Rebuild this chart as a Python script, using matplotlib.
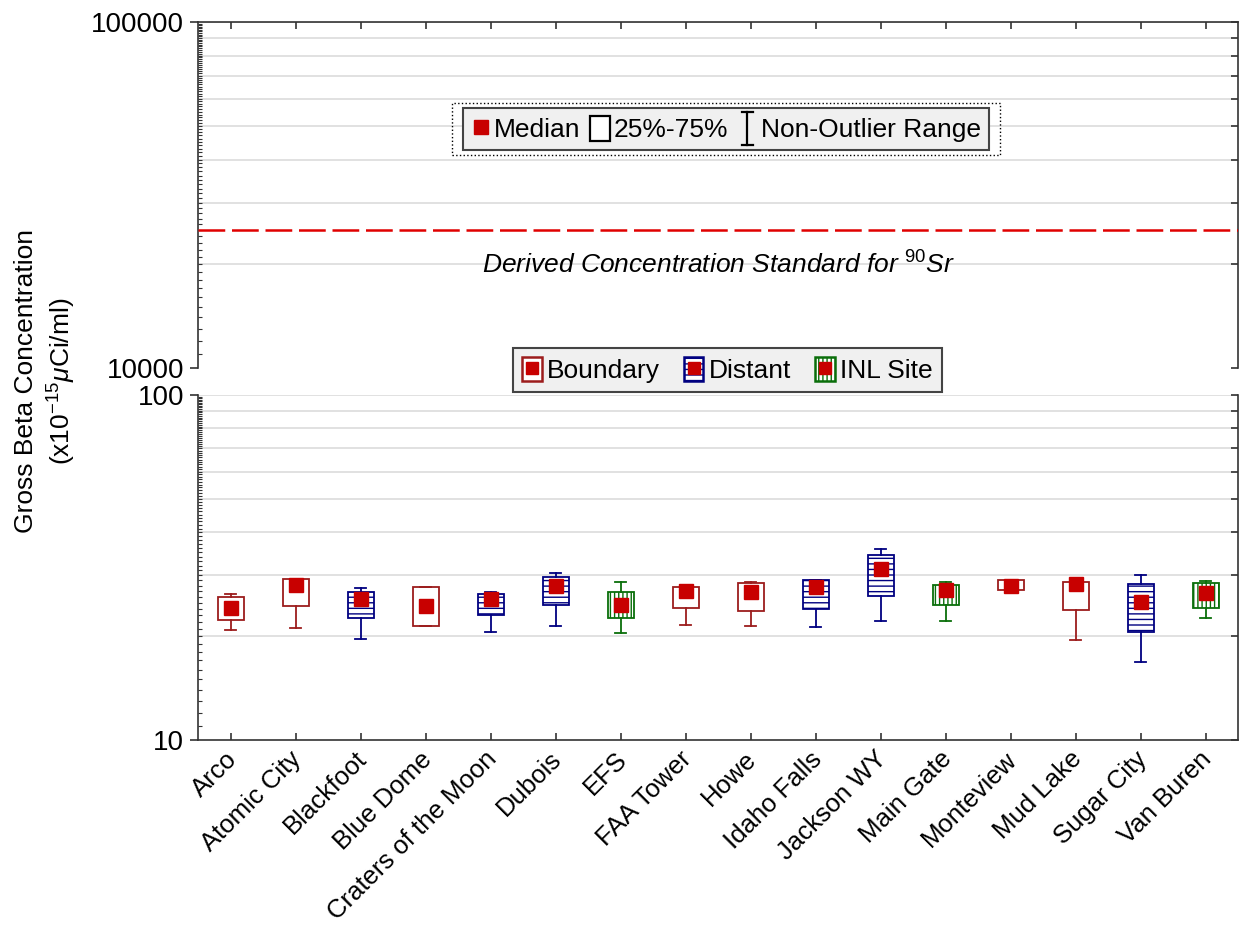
import numpy as np
import matplotlib
matplotlib.use("Agg")
import matplotlib.pyplot as plt
import matplotlib.transforms as mtransforms
from matplotlib.patches import Patch, Rectangle
from matplotlib.lines import Line2D
from matplotlib.legend_handler import HandlerBase, HandlerTuple
from matplotlib.ticker import FixedLocator, NullFormatter, FixedFormatter

plt.rcParams['font.family'] = ['Liberation Sans', 'DejaVu Sans']
plt.rcParams['mathtext.fontset'] = 'custom'
plt.rcParams['mathtext.rm'] = 'Liberation Sans'
plt.rcParams['mathtext.it'] = 'Liberation Sans:italic'
plt.rcParams['hatch.linewidth'] = 1.0

sites = ["Arco", "Atomic City", "Blackfoot", "Blue Dome", "Craters of the Moon",
         "Dubois", "EFS", "FAA Tower", "Howe", "Idaho Falls", "Jackson WY",
         "Main Gate", "Monteview", "Mud Lake", "Sugar City", "Van Buren"]
groups = ["Boundary", "Boundary", "Distant", "Boundary", "Distant",
          "Distant", "INL Site", "Boundary", "Boundary", "Distant", "Distant",
          "INL Site", "Boundary", "Boundary", "Distant", "INL Site"]

# gross beta summary per site (x10^-15 uCi/ml)
medians  = [24.2, 28.1, 25.6, 24.4, 25.6, 28.0, 24.6, 27.0, 26.9, 27.8, 31.4, 27.2, 28.0, 28.3, 25.2, 26.7]
q1       = [22.3, 24.4, 22.5, 21.4, 23.0, 24.6, 22.6, 24.2, 23.6, 24.0, 26.2, 24.6, 27.3, 23.8, 20.6, 24.1]
q3       = [25.9, 29.2, 26.9, 27.8, 26.5, 29.7, 26.9, 27.8, 28.5, 29.0, 34.3, 28.1, 29.0, 28.7, 28.3, 28.5]
whis_lo  = [20.9, 21.1, 19.6, 21.4, 20.5, 21.4, 20.4, 21.6, 21.4, 21.3, 22.1, 22.2, 27.3, 19.5, 16.8, 22.5]
whis_hi  = [26.5, 29.2, 27.5, 27.8, 26.9, 30.5, 28.7, 28.1, 28.7, 29.1, 35.7, 28.7, 29.0, 28.7, 30.1, 28.9]

dcs_sr90 = 25000

group_edge  = {"Boundary": "#9c1c1c", "Distant": "#000080", "INL Site": "#0a6e0a"}
group_hatch = {"Boundary": "", "Distant": "---", "INL Site": "||||"}
median_red  = "#c80000"
spine_col   = "#333333"
grid_col    = "#dcdcdc"


class WhiskerHandler(HandlerBase):
    # I-beam symbol for the whisker legend entry
    def create_artists(self, legend, orig_handle, xdescent, ydescent,
                       width, height, fontsize, trans):
        cx = width / 2 - xdescent
        y0 = -ydescent - 0.15 * height
        y1 = height - ydescent + 0.15 * height
        hw = width * 0.3
        segs = [([cx, cx], [y0, y1]), ([cx - hw, cx + hw], [y0, y0]),
                ([cx - hw, cx + hw], [y1, y1])]
        arts = []
        for xs, ys in segs:
            ln = Line2D(xs, ys, color="black", lw=1.6, transform=trans)
            arts.append(ln)
        return arts


class WhiskerKey:
    pass


fig = plt.figure(figsize=(12.41, 9.25), dpi=100)
left, right = 198 / 1241, 1238 / 1241
ax_hi = fig.add_axes([left, 1 - 368 / 925, right - left, (368 - 22) / 925])
ax_lo = fig.add_axes([left, 1 - 740 / 925, right - left, (740 - 395) / 925])

x = np.arange(len(sites))

# boxes, one bxp call per site group
for g in ["Boundary", "Distant", "INL Site"]:
    idx = [i for i, gg in enumerate(groups) if gg == g]
    stats = [dict(med=medians[i], q1=q1[i], q3=q3[i], whislo=whis_lo[i],
                  whishi=whis_hi[i], fliers=[]) for i in idx]
    col = group_edge[g]
    ax_lo.bxp(stats, positions=x[idx], widths=0.4, capwidths=0.18,
              patch_artist=True, showfliers=False,
              boxprops=dict(facecolor="white", edgecolor=col, linewidth=1.3,
                            hatch=group_hatch[g]),
              whiskerprops=dict(color=col, linewidth=1.3),
              capprops=dict(color=col, linewidth=1.3),
              medianprops=dict(linestyle="none"))

ax_lo.plot(x, medians, linestyle="none", marker="s", markersize=10,
           color=median_red, zorder=5)

for ax in (ax_hi, ax_lo):
    ax.set_yscale("log")
    ax.set_xlim(-0.5, len(sites) - 0.5)
    for s in ax.spines.values():
        s.set_color(spine_col)
        s.set_linewidth(1.2)

ax_lo.set_ylim(10, 100)
ax_hi.set_ylim(10000, 100000)

ax_lo.spines["top"].set_visible(False)
ax_hi.spines["bottom"].set_visible(False)

# gridlines at 2..9 within each decade
for ax, base in ((ax_lo, 10), (ax_hi, 10000)):
    for m in range(2, 11):
        ax.axhline(base * m, color=grid_col, lw=1.2, zorder=0)

# left axis: long major tick + dense minor ticks
for ax, base, lab in ((ax_lo, 10, ["10", "100"]), (ax_hi, 10000, ["10000", "100000"])):
    ax.yaxis.set_major_locator(FixedLocator([base, base * 10]))
    ax.yaxis.set_major_formatter(FixedFormatter(lab))
    ax.yaxis.set_minor_locator(FixedLocator(np.arange(base * 1.1, base * 10, base * 0.1)))
    ax.yaxis.set_minor_formatter(NullFormatter())
    ax.tick_params(axis="y", which="major", direction="out", length=6,
                   width=1.2, labelsize=20, pad=4, colors=spine_col,
                   labelcolor="black")
    ax.tick_params(axis="y", which="minor", direction="in", length=3,
                   width=0.8, colors=spine_col)
    # right spine ticks at the gridlines
    tw = ax.twinx()
    tw.set_yscale("log")
    tw.set_ylim(ax.get_ylim())
    tw.yaxis.set_major_locator(FixedLocator([base * m for m in range(1, 11)]))
    tw.yaxis.set_major_formatter(NullFormatter())
    tw.yaxis.set_minor_locator(FixedLocator([]))
    tw.tick_params(axis="y", direction="in", length=5, width=1.2, colors=spine_col)
    for s in tw.spines.values():
        s.set_visible(False)

ax_lo.set_xticks(x)
ax_lo.set_xticklabels(sites, rotation=45, ha="right", va="top",
                      rotation_mode="anchor", fontsize=18.5)
ax_lo.tick_params(axis="x", direction="in", length=5, width=1.2,
                  colors=spine_col, labelcolor="black", pad=5)
# nudge the slanted labels so they end right under their tick
shift = mtransforms.ScaledTranslation(-6 / 100, 0, fig.dpi_scale_trans)
for lbl in ax_lo.get_xticklabels():
    lbl.set_transform(lbl.get_transform() + shift)

ax_hi.set_xticks(x)
ax_hi.set_xticklabels([])
ax_hi.tick_params(axis="x", bottom=False, top=True, direction="in",
                  length=5, width=1.2, colors=spine_col)

# derived concentration standard
ax_hi.axhline(dcs_sr90, color="#e00000", lw=1.8, dashes=(10.7, 2.7), zorder=3)
ax_hi.text(7.5, 19800, r"Derived Concentration Standard for $^{\mathit{90}}$Sr",
           ha="center", va="center", fontsize=19, style="italic")

fig.text(0.021, 0.588, "Gross Beta Concentration", rotation=90,
         ha="center", va="center", fontsize=19)
fig.text(0.050, 0.588, r"(x10$^{-15}$$\mu$Ci/ml)", rotation=90,
         ha="center", va="center", fontsize=19)

# box-plot key
key_handles = [Line2D([], [], linestyle="none", marker="s", markersize=10,
                      color=median_red),
               Patch(facecolor="white", edgecolor="black", linewidth=1.6),
               WhiskerKey()]
leg1 = fig.legend(key_handles, ["Median", "25%-75%", "Non-Outlier Range"],
                  loc="center", bbox_to_anchor=(0.585, 0.8605), ncol=3,
                  fontsize=19, handlelength=0.75, handleheight=1.1,
                  handletextpad=0.15, columnspacing=0.35, borderpad=0.3,
                  fancybox=False, framealpha=1, facecolor="#f0f0f0",
                  edgecolor="#444444", handler_map={WhiskerKey: WhiskerHandler()})
leg1.get_frame().set_linewidth(1.5)
fig.patches.append(Rectangle((452 / 1241, 1 - 155 / 925), 548 / 1241, 52 / 925,
                             transform=fig.transFigure, fill=False,
                             linestyle=":", linewidth=1.0, edgecolor="black"))

# site group key
grp_handles = []
for g in ["Boundary", "Distant", "INL Site"]:
    grp_handles.append((Patch(facecolor="white", edgecolor=group_edge[g],
                              hatch=group_hatch[g], linewidth=1.8),
                        Line2D([], [], linestyle="none", marker="s",
                               markersize=9, color=median_red)))
leg2 = fig.legend(grp_handles, ["Boundary", "Distant", "INL Site"],
                  loc="center", bbox_to_anchor=(0.586, 0.6), ncol=3,
                  fontsize=19, handlelength=0.75, handleheight=1.0,
                  handletextpad=0.2, columnspacing=0.9, borderpad=0.35,
                  fancybox=False, framealpha=1, facecolor="#f0f0f0",
                  edgecolor="#444444",
                  handler_map={tuple: HandlerTuple(ndivide=1)})
leg2.get_frame().set_linewidth(1.5)

fig.savefig("out.png", dpi=100)
